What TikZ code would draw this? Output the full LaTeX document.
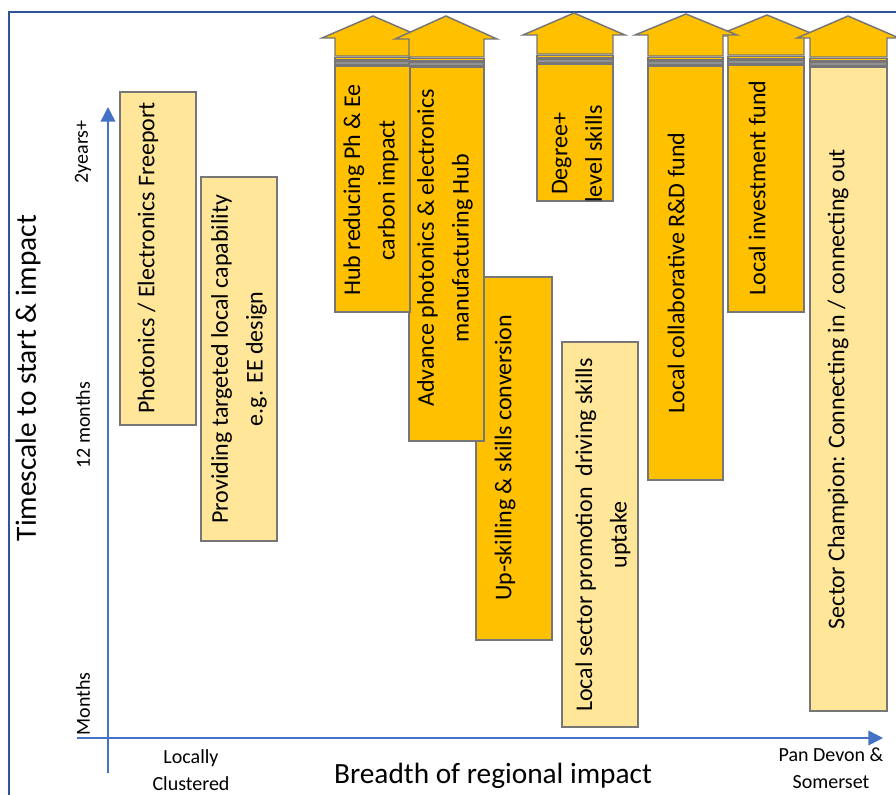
\documentclass[tikz,border=0pt]{standalone}
\usepackage{fontspec}
\setmainfont{Carlito}
\usetikzlibrary{fit,arrows.meta}
\definecolor{dk}{HTML}{FFC000}
\definecolor{lt}{HTML}{FFE699}
\definecolor{bd}{HTML}{767676}
\definecolor{ax}{HTML}{4472C4}
\definecolor{fr}{HTML}{2F5597}
\newcommand\myarrow[6]{%
  \draw[arrowhd] (#1,#2) -- (#1+51,#3) -- (#5,#3) -- (#5,#6) -- (#4,#6) -- (#4,#3) -- (#1-51,#3) -- cycle;
  \draw[draw=bd, fill=dk, line width=0.8pt] (#4,#6+1.5) rectangle (#5,#6+4);
  \draw[draw=bd, fill=bd!80, line width=0.8pt] (#4,#6+5.5) rectangle (#5,#6+8.5);
}
\begin{document}
\begin{tikzpicture}[x=0.75pt,y=-0.75pt,
  lbox/.style={draw=bd,fill=lt,line width=1.1pt,inner sep=0pt},
  dbox/.style={draw=bd,fill=dk,line width=1.1pt,inner sep=0pt},
  btxt/.style={rotate=90,align=center,font=\fontsize{18}{26}\selectfont,inner sep=0pt},
  small/.style={font=\fontsize{15}{20}\selectfont,inner sep=0pt},
  big/.style={font=\fontsize{22}{26}\selectfont,inner sep=0pt},
  axisline/.style={draw=ax,line width=1.1pt},
  arrowhd/.style={draw=bd,fill=dk,line width=1.1pt,line join=miter}]
\useasboundingbox (0,0) rectangle (896,794);
\fill[white] (0,0) rectangle (896,794);
% frame
\draw[fr, line width=2pt] (9,800) -- (9,12) -- (900,12);
% axes
\coordinate (yb) at (108,773);
\coordinate (yt) at (108,107);
\coordinate (xl) at (77,738);
\coordinate (xr) at (883,738);
\draw[axisline,-{Triangle[width=11pt,length=11pt]}] (yb) -- (yt);
\draw[axisline,-{Triangle[width=11pt,length=11pt]}] (xl) -- (xr);
% arrows
\myarrow{373}{16}{38}{335}{410}{56}
\myarrow{446}{16}{39}{409}{484}{57}
\myarrow{574}{13}{35}{537}{613}{54}
\myarrow{767}{15}{36}{728}{804}{55}
\myarrow{686}{14}{35}{648}{723}{56}
\myarrow{848}{16}{38}{810}{887}{57}
% boxes
\node[lbox, fit={(120,92) (196,425)}] (b1) {};
\node[lbox, fit={(201,177) (277,541)}] (b2) {};
\node[dbox, fit={(476,277) (552,640)}] (b5) {};
\node[dbox, fit={(409,67) (484,441)}] (b4) {};
\node[dbox, fit={(335,66) (410,312)}] (b3) {};
\node[lbox, fit={(562,342) (638,727)}] (b6) {};
\node[dbox, fit={(537,64) (613,201)}] (b7) {};
\node[dbox, fit={(648,66) (723,480)}] (b8) {};
\node[dbox, fit={(728,65) (804,312)}] (b9) {};
\node[lbox, fit={(810,67) (887,711)}] (b10) {};
% box texts
\node[btxt] (t1) at (148,258) {Photonics / Electronics Freeport};
\node[btxt] (t2) at (239,359) {Providing targeted local capability\\e.g. EE design};
\node[btxt] (t3) at (371,190) {Hub reducing Ph \& Ee\\carbon impact};
\node[btxt] (t4) at (445,248) {Advance photonics \& electronics\\manufacturing Hub};
\node[btxt] (t5) at (505,458) {Up-skilling \& skills conversion};
\node[btxt] (t6) at (603,535) {Local sector promotion\ \ driving skills\\uptake};
\node[btxt] (t7) at (577,154) {Degree+\\level skills};
\node[btxt] (t8) at (676,273) {Local collaborative R\&D fund};
\node[btxt] (t9) at (757,188) {Local investment fund};
\node[btxt] (t10) at (838,389) {Sector Champion: Connecting in / connecting out};
% axis labels
\node[big, rotate=90] (ylab) at (28,378) {Timescale to start \& impact};
\node[big] (xlab) at (493,776) {Breadth of regional impact};
\node[small, rotate=90] (y1) at (83,152) {2years+};
\node[small, rotate=90] (y2) at (83,425) {12 months};
\node[small, rotate=90] (y3) at (83,704) {Months};
\node[small, align=center] (x1) at (191,770) {Locally\\Clustered};
\node[small, align=center] (x2) at (831,768) {Pan Devon \&\\Somerset};
\end{tikzpicture}
\end{document}
